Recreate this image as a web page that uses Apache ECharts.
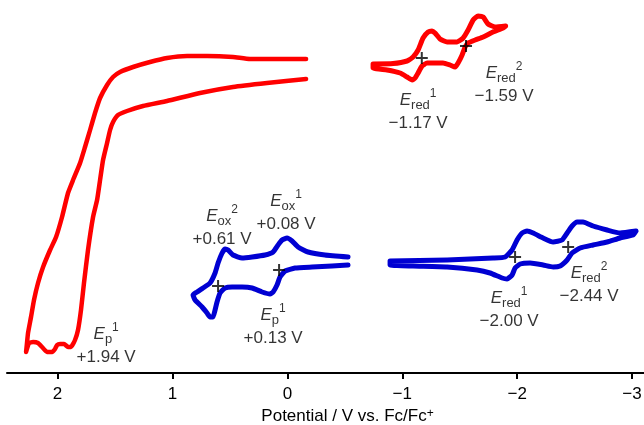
<!DOCTYPE html>
<html>
<head>
<meta charset="utf-8">
<script src="https://cdn.jsdelivr.net/npm/echarts@6/dist/echarts.min.js"></script>
<style>
html,body{margin:0;padding:0;background:#fff;}
#chart{width:644px;height:425px;}
</style>
</head>
<body>
<div id="chart"></div>
<script>
// ---- data (potential in V vs Fc/Fc+, current in arbitrary units) ----
const tickValues = [2, 1, 0, -1, -2, -3];

// red compound, oxidation scan (open curve)
const redOxPotential = [-0.163,0.037,0.325,0.473,0.699,0.873,1.047,1.195,1.343,1.456,1.517,1.569,1.630,1.674,1.717,1.761,1.804,1.865,1.909,1.961,2.013,2.065,2.126,2.170,2.205,2.231,2.257,2.266,2.274,
  2.248,2.213,2.170,2.135,2.092,2.048,2.022,2.004,1.978,1.943,1.909,1.883,
  1.848,1.822,1.796,1.770,1.735,1.691,1.656,1.630,1.604,1.569,1.543,1.517,1.474,1.395,1.256,1.047,0.760,0.473,0.177,-0.163];
const redOxCurrent = [314,314,314,316,317,317,315,311,306,301,296,288,275,260,243,226,210,193,180,156,136,123,106,90,73,56,40,30,21,
  30,31,30,26,21,21,24,28,29,29,26,26,
  33,43,63,90,123,156,173,193,213,230,243,251,258,262,267,272,280,286,290,294];

// red compound, reduction scan (closed loop)
const redRedPotential = [-0.746,-0.920,-1.042,-1.094,-1.138,-1.181,-1.225,-1.259,-1.285,-1.329,-1.390,-1.477,-1.530,-1.573,-1.617,-1.660,-1.704,-1.747,-1.808,-1.900,
  -1.878,-1.790,-1.704,-1.634,-1.573,-1.547,-1.521,-1.486,-1.460,-1.416,-1.355,-1.268,-1.216,-1.172,-1.138,-1.112,-1.086,-1.042,-0.981,-0.868,-0.746,-0.746];
const redRedCurrent = [309,309.5,312,316,323,335,341,342,340,334,331,331,335,343,353,357,356,349,346,347,
  345,341,336,333,330,326,318,310,306,308,310,310,310,307,300,295,293,296,300,303,305,309];

// blue compound, oxidation scan (open curve)
const blueOxPotential = [-0.528,-0.328,-0.180,-0.093,-0.041,0.003,0.046,0.081,0.124,0.194,0.307,0.394,0.473,0.516,0.542,0.568,0.603,0.629,0.673,0.734,0.786,0.821,0.803,0.742,0.699,0.673,0.647,0.629,0.612,0.586,0.542,0.481,0.394,0.307,0.220,0.151,0.124,0.090,0.064,0.020,-0.067,-0.215,-0.389,-0.528];
const blueOxCurrent = [116,118,121,126,132,135,133,128,121,118,116,115,118,123,124,120,110,100,90,85,81,78,73,66,60,56,56,63,71,80,85,86,86,85,81,79,81,88,96,102,105,106,107,108];

// blue compound, reduction scan (closed loop)
const blueRedPotential = [-0.894,-1.390,-1.790,-1.895,-1.956,-1.999,-2.043,-2.086,-2.139,-2.226,-2.313,-2.391,-2.435,-2.478,-2.522,-2.574,-2.661,-2.783,-2.896,-3.035,
  -3.009,-2.896,-2.783,-2.661,-2.548,-2.478,-2.435,-2.374,-2.313,-2.226,-2.113,-2.026,-1.982,-1.956,-1.912,-1.869,-1.764,-1.651,-1.390,-1.094,-0.894,-0.894];
const blueRedCurrent = [112,113,115,116,123,133,140,142,140,135,131,133,140,147,151,151,147,143,140,142,
  138,135,131,128,125,120,113,107,106,108,110,109,105,98,94,95,100,103,106,107,108,112];

// half-wave potential markers (+)
const crossPotential = [-1.170,-1.555,0.603,0.072,-1.982,-2.444];
const crossCurrent = [315,327,87,103,116,126];

// annotations
const annSub = ['p','ox','ox','p','red','red','red','red'];
const annSup = ['1','2','1','1','1','2','1','2'];
const annValue = ['+1.94 V','+0.61 V','+0.08 V','+0.13 V','\u22121.17 V','\u22121.59 V','\u22122.00 V','\u22122.44 V'];
const annPotential = [1.577,0.568,0.011,0.124,-1.138,-1.886,-1.930,-2.626];
const annCurrent = [28,146,161,47,262,289,64,89];

// ---- chart ----
const zip = (a, b) => a.map((v, i) => [v, b[i]]);
const RED = '#ff0000';
const BLUE = '#0000d2';
const FONT = '"Liberation Sans", Arial, Helvetica, sans-serif';

function curve(pot, cur, color, width) {
  return {
    type: 'line',
    data: zip(pot, cur),
    showSymbol: false,
    symbol: 'none',
    smooth: 0.15,
    lineStyle: { color: color, width: width, cap: 'round', join: 'round' },
    silent: true,
    z: 2
  };
}

const chart = echarts.init(document.getElementById('chart'), null, { renderer: 'canvas' });
chart.setOption({
  animation: false,
  backgroundColor: '#fff',
  textStyle: { fontFamily: FONT, color: '#000' },
  grid: { left: 7, right: 0, top: 0, bottom: 52, containLabel: false, outerBoundsMode: 'none' },
  xAxis: {
    type: 'value',
    inverse: true,
    min: -3.104,
    max: 2.44,
    splitLine: { show: false },
    axisLine: { show: true, onZero: false, lineStyle: { color: '#000', width: 2 } },
    axisTick: { show: true, customValues: tickValues, length: 6, lineStyle: { color: '#000', width: 2 } },
    axisLabel: {
      show: true, customValues: tickValues, margin: 13, fontSize: 17, color: '#000', fontFamily: FONT,
      formatter: v => (v < 0 ? '\u2212' + Math.abs(v) : String(v))
    },
    name: 'Potential / V vs. Fc/Fc{sup|+}',
    nameLocation: 'middle',
    nameGap: 33,
    nameTextStyle: {
      fontSize: 17, color: '#000', fontFamily: FONT, padding: [0, 0, 0, 44],
      rich: { sup: { fontSize: 12, color: '#000', fontFamily: FONT, verticalAlign: 'top', lineHeight: 12 } }
    }
  },
  yAxis: { type: 'value', min: 0, max: 373, show: false },
  series: [
    curve(redOxPotential, redOxCurrent, RED, 4.5),
    curve(redRedPotential, redRedCurrent, RED, 5),
    curve(blueOxPotential, blueOxCurrent, BLUE, 5),
    curve(blueRedPotential, blueRedCurrent, BLUE, 5),
    {
      type: 'scatter',
      data: zip(crossPotential, crossCurrent),
      symbol: 'path://M0,5H5V0H7V5H12V7H7V12H5V7H0Z',
      symbolSize: 12,
      itemStyle: { color: '#000' },
      silent: true,
      z: 5
    },
    {
      type: 'scatter',
      data: annPotential.map((p, i) => ({
        value: [p, annCurrent[i]],
        label: { formatter: '{e|E}{sub|' + annSub[i] + '}{sup|' + annSup[i] + '}\n{v|' + annValue[i] + '}' }
      })),
      symbolSize: 1,
      itemStyle: { color: 'rgba(0,0,0,0)' },
      silent: true,
      z: 6,
      label: {
        show: true,
        position: 'inside',
        align: 'center',
        verticalAlign: 'middle',
        color: '#000',
        textBorderWidth: 0,
        fontFamily: FONT,
        rich: {
          e: { fontSize: 17, fontStyle: 'italic', lineHeight: 24, color: '#000', fontFamily: FONT },
          sub: { fontSize: 13, lineHeight: 12, verticalAlign: 'bottom', color: '#000', fontFamily: FONT },
          sup: { fontSize: 12, lineHeight: 12, verticalAlign: 'top', color: '#000', fontFamily: FONT },
          v: { fontSize: 17, lineHeight: 22, color: '#000', fontFamily: FONT }
        }
      }
    }
  ]
});
</script>
</body>
</html>
